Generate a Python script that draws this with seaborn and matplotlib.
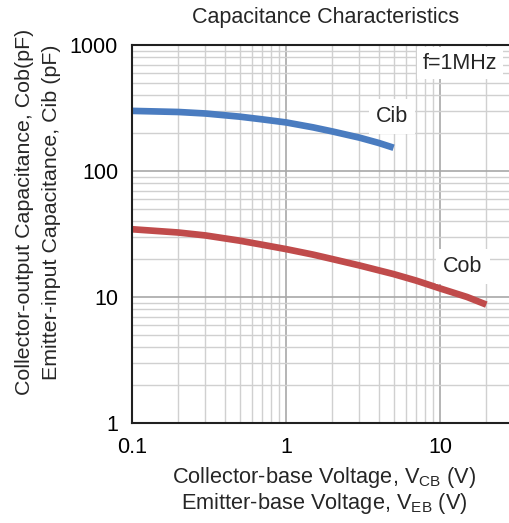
import matplotlib
matplotlib.use("Agg")
import matplotlib.pyplot as plt
import seaborn as sns
import pandas as pd
import numpy as np
from matplotlib.ticker import LogLocator, NullFormatter, FixedLocator

# Data
cib_v = [0.1, 0.2, 0.3, 0.5, 0.7, 1, 1.5, 2, 3, 4, 5]
cib_c = [300, 294, 286, 270, 257, 243, 222, 206, 184, 167, 153]
cob_v = [0.1, 0.2, 0.3, 0.5, 0.7, 1, 1.5, 2, 3, 5, 7, 10, 15, 20]
cob_c = [34.5, 32.5, 30.8, 28, 26, 24, 21.7, 20, 17.8, 15.2, 13.5, 11.7, 10.0, 8.7]

x_ticks = [0.1, 1, 10]
x_tick_labels = ["0.1", "1", "10"]
y_ticks = [1, 10, 100, 1000]
y_tick_labels = ["1", "10", "100", "1000"]

df = pd.concat([
    pd.DataFrame({"V": cib_v, "C": cib_c, "series": "Cib"}),
    pd.DataFrame({"V": cob_v, "C": cob_c, "series": "Cob"}),
])

sns.set_style("white")
plt.rcParams['font.family'] = ['Liberation Sans', 'DejaVu Sans']
plt.rcParams['mathtext.fontset'] = 'custom'
plt.rcParams['mathtext.rm'] = 'Liberation Sans'

fig = plt.figure(figsize=(5.10, 5.23), dpi=100)
ax = fig.add_axes([132/510, 1-423/523, 1-132/510, (423-45)/523])

sns.lineplot(data=df, x="V", y="C", hue="series",
             palette={"Cib": "#4a7cc0", "Cob": "#c04b4b"},
             linewidth=4.8, ax=ax, legend=False, sort=True)
for ln in ax.get_lines():
    ln.set_solid_capstyle("butt")
    ln.set_solid_joinstyle("round")

ax.set_xscale("log")
ax.set_yscale("log")
ax.set_xlim(0.1, 28.5)
ax.set_ylim(1, 1000)

ax.xaxis.set_major_locator(FixedLocator(x_ticks))
ax.yaxis.set_major_locator(FixedLocator(y_ticks))
ax.set_xticklabels(x_tick_labels)
ax.set_yticklabels(y_tick_labels)
ax.xaxis.set_minor_locator(LogLocator(base=10, subs=np.arange(2, 10)))
ax.yaxis.set_minor_locator(LogLocator(base=10, subs=np.arange(2, 10)))
ax.xaxis.set_minor_formatter(NullFormatter())
ax.yaxis.set_minor_formatter(NullFormatter())

ax.grid(True, which="major", color="#a8a8a8", linewidth=1.2)
ax.grid(True, which="minor", color="#d0d0d0", linewidth=1.0)
ax.set_axisbelow(True)

for s in ["left", "bottom", "top"]:
    ax.spines[s].set_color("#202020")
    ax.spines[s].set_linewidth(1.5)
ax.spines["right"].set_visible(False)

ax.tick_params(axis="both", which="both", length=0, labelsize=15.5, colors="black", pad=10)
ax.set_xlabel("")
ax.set_ylabel("")

ax.text(0.868, 0.952, "f=1MHz", transform=ax.transAxes, fontsize=15.5,
        ha="center", va="center",
        bbox=dict(facecolor="white", edgecolor="none", pad=4))
ax.text(4.87, 269, "Cib", fontsize=15.5, ha="center", va="center",
        bbox=dict(facecolor="white", edgecolor="none", pad=5))
ax.text(14.1, 17.5, "Cob", fontsize=15.5, ha="center", va="center",
        bbox=dict(facecolor="white", edgecolor="none", pad=5))

fig.text(326/510, 1-18/523, "Capacitance Characteristics", fontsize=15.5,
         ha="center", va="center")
fig.text(324/510, 1-478/523, r"Collector-base Voltage, V$_{\mathrm{CB}}$ (V)",
         fontsize=15.7, ha="center", va="center")
fig.text(324/510, 1-503/523, r"Emitter-base Voltage, V$_{\mathrm{EB}}$ (V)",
         fontsize=15.7, ha="center", va="center")
fig.text(25/510, 1-212/523, "Collector-output Capacitance, Cob(pF)",
         fontsize=15.4, ha="center", va="center", rotation=90)
fig.text(52/510, 1-212/523, "Emitter-input Capacitance, Cib (pF)",
         fontsize=15.4, ha="center", va="center", rotation=90)

fig.savefig("out.png", dpi=100)
